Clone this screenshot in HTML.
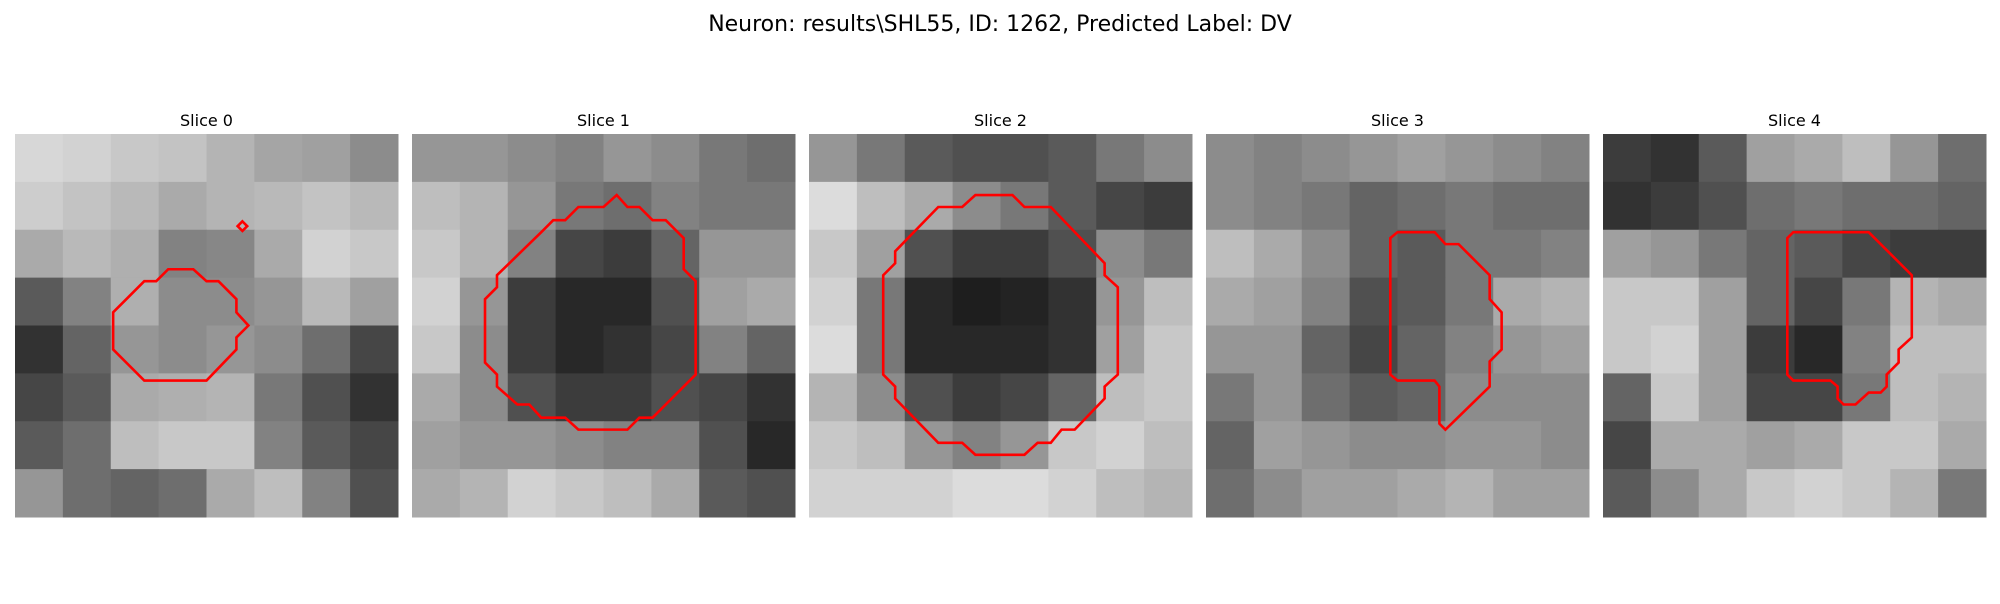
<!DOCTYPE html>
<html><head><meta charset="utf-8"><style>
html,body{margin:0;padding:0;background:#fff;}
body{width:2000px;height:600px;overflow:hidden;position:relative;font-family:"DejaVu Sans","Liberation Sans",sans-serif;}
</style></head><body>
<svg id="fig" width="2000" height="600" xmlns="http://www.w3.org/2000/svg">
<text x="1000" y="31" text-anchor="middle" font-size="22" font-family="DejaVu Sans, sans-serif">Neuron: results\SHL55, ID: 1262, Predicted Label: DV</text>
</svg>
<script>
const sliceTitles = ["Slice 0","Slice 1","Slice 2","Slice 3","Slice 4"];
const gray0 = [[215,210,200,195,180,165,160,140],[205,195,185,170,180,185,195,185],[170,185,175,130,135,170,210,200],[90,130,175,140,140,150,185,160],[50,100,150,140,150,140,110,70],[70,90,170,175,180,120,80,50],[90,110,190,200,200,130,90,70],[150,110,100,110,170,190,130,80]];
const gray1 = [[150,150,140,130,150,140,120,110],[190,180,150,120,110,130,120,120],[200,180,130,70,60,100,150,150],[210,150,60,40,40,80,160,170],[200,140,60,40,50,70,130,100],[170,140,80,60,60,80,70,50],[160,150,150,140,130,130,80,40],[170,180,210,200,190,170,90,80]];
const gray2 = [[150,120,90,80,80,90,120,140],[220,190,170,140,120,90,70,60],[200,160,80,60,60,80,140,120],[210,120,40,30,35,50,150,190],[220,120,40,40,40,50,160,200],[180,140,80,60,70,100,190,200],[200,190,150,130,150,200,210,190],[210,210,210,220,220,210,190,180]];
const gray3 = [[140,130,140,150,160,150,140,130],[140,130,120,100,110,120,110,110],[190,170,140,100,90,120,120,130],[170,160,130,80,90,120,170,180],[150,150,100,70,100,130,150,160],[120,150,110,90,100,140,140,140],[100,160,150,140,140,150,150,140],[110,140,160,160,170,180,160,160]];
const gray4 = [[60,50,90,160,170,190,150,110],[50,60,80,110,120,110,110,100],[160,150,120,100,90,70,60,60],[200,200,160,100,70,120,180,170],[200,210,160,60,40,130,190,190],[100,200,160,70,70,120,190,180],[70,170,170,160,170,200,200,170],[90,140,170,200,210,200,180,120]];
const contour0 = [[12.8,11.3],[14.9,11.3],[16,12.3],[17,12.3],[18.5,13.8],[18.5,14.9],[19.5,16],[18.5,17],[18.5,18],[16,20.6],[10.8,20.6],[8.2,18],[8.2,14.9],[10.8,12.3],[11.8,12.3]];
const contour0b = [[19,7.3],[19.4,7.7],[19,8.1],[18.6,7.7]];
const contour1 = [[17.1,5.1],[18,6.1],[19,6.1],[20.1,7.2],[21.2,7.2],[22.7,8.7],[22.7,11.3],[23.7,12.3],[23.7,20.1],[21.2,22.6],[20.1,23.7],[19,23.7],[18,24.7],[13.9,24.7],[12.8,23.7],[10.8,23.7],[9.8,22.6],[8.8,22.6],[7.1,21.1],[7.1,20.1],[6.1,19.1],[6.1,13.8],[7.1,12.8],[7.1,11.8],[10.8,8.2],[11.8,7.2],[12.8,7.2],[13.9,6.1],[16,6.1]];
const contour2 = [[13.9,5.1],[17,5.1],[18,6.1],[20.2,6.1],[24.7,10.8],[24.7,11.8],[25.8,12.8],[25.8,20.1],[24.7,21.1],[24.7,22.1],[22.2,24.7],[21.1,24.7],[20.2,25.8],[19.1,25.8],[18,26.8],[13.9,26.8],[12.8,25.8],[10.8,25.8],[7.2,22.1],[7.2,21.1],[6.2,20.1],[6.2,11.8],[7.2,10.8],[7.2,9.8],[10.8,6.1],[12.8,6.1]];
const contour3 = [[16,8.2],[19.1,8.2],[20,9.2],[21.1,9.2],[23.7,11.8],[23.7,13.8],[24.7,14.9],[24.7,18],[23.7,19],[23.7,21.1],[20,24.7],[19.5,24.2],[19.5,21.1],[19.1,20.6],[16,20.6],[15.4,20.1],[15.4,8.7]];
const contour4 = [[15.9,8.2],[22.2,8.2],[25.8,11.8],[25.8,17],[24.7,18],[24.7,19.1],[23.7,20.1],[23.7,21.1],[23.2,21.6],[22.2,21.6],[21.1,22.6],[20.1,22.6],[19.6,22.1],[19.6,21.1],[19,20.6],[15.9,20.6],[15.4,20.1],[15.4,8.7]];

const grays=[gray0,gray1,gray2,gray3,gray4];
const contours=[[contour0,contour0b],[contour1],[contour2],[contour3],[contour4]];
const NS="http://www.w3.org/2000/svg";
const svg=document.getElementById('fig');
const panelX0=15, panelStep=397, panelY=134, panelSize=383, gridN=32;
function px(i,g){return panelX0+i*panelStep+g*panelSize/gridN;}
function py(g){return panelY+g*panelSize/gridN;}
grays.forEach((grid,i)=>{
  const g=document.createElementNS(NS,'g');
  
  
  svg.appendChild(g);
  const t=document.createElementNS(NS,'text');
  
  
  t.setAttribute('x',px(i,16));t.setAttribute('y',126);
  t.setAttribute('text-anchor','middle');t.setAttribute('font-size','16');
  t.textContent=sliceTitles[i];g.appendChild(t);
  const n=grid.length, cell=gridN/n;
  grid.forEach((row,r)=>row.forEach((v,c)=>{
    const rc=document.createElementNS(NS,'rect');
    
    
    const x1=px(i,c*cell), x2=px(i,(c+1)*cell), y1=py(r*cell), y2=py((r+1)*cell);
    rc.setAttribute('x',x1);rc.setAttribute('y',y1);
    rc.setAttribute('width',x2-x1+0.5);rc.setAttribute('height',y2-y1+0.5);
    rc.setAttribute('fill','rgb('+v+','+v+','+v+')');
    g.appendChild(rc);
  }));
  contours[i].forEach(ct=>{
    const p=document.createElementNS(NS,'polygon');
    
    
    p.setAttribute('points',ct.map(q=>px(i,q[0])+','+py(q[1])).join(' '));
    p.setAttribute('fill','none');p.setAttribute('stroke','#ff0000');p.setAttribute('stroke-width','2.6');
    g.appendChild(p);
  });
});
</script>
</body></html>
